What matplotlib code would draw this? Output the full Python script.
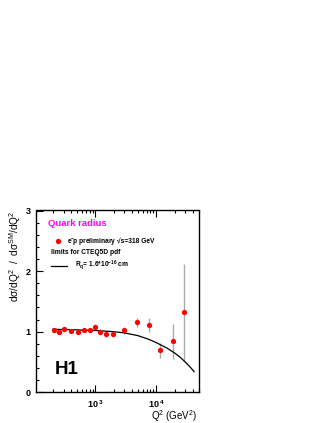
import numpy as np
import matplotlib
matplotlib.use("Agg")
import matplotlib.pyplot as plt
from matplotlib.ticker import LogLocator, FixedLocator, MultipleLocator, NullFormatter, FuncFormatter

plt.rcParams['font.family'] = ['Liberation Sans', 'DejaVu Sans']
plt.rcParams['mathtext.fontset'] = 'custom'
plt.rcParams['mathtext.rm'] = 'Liberation Sans'
plt.rcParams['mathtext.it'] = 'Liberation Sans:italic'
plt.rcParams['mathtext.bf'] = 'Liberation Sans:bold'

# data points
q2 = [205, 255, 304, 403, 508, 656, 805, 1000, 1197, 1506, 1968, 2929,
      4824, 7743, 11510, 18960, 28550]
ratio = [1.031, 0.998, 1.037, 1.009, 0.987, 1.026, 1.026, 1.076, 0.998,
         0.954, 0.954, 1.020, 1.153, 1.103, 0.695, 0.844, 1.324]
err = [0.03, 0.03, 0.03, 0.03, 0.03, 0.03, 0.035, 0.045, 0.04, 0.04, 0.045,
       0.055, 0.075, 0.115, 0.125, 0.29, 0.80]

# quark radius limit curve
curve_q2 = [200, 500, 1000, 2000, 3000, 5000, 7500, 10000, 15000, 20000,
            25000, 30000, 36000, 42000]
curve_r = [1.04, 1.03, 1.02, 1.0, 0.98, 0.935, 0.875, 0.82, 0.73, 0.65,
           0.575, 0.50, 0.42, 0.34]

W, H = 327, 423
fig = plt.figure(figsize=(W / 100, H / 100), dpi=100)
ax = fig.add_axes([36 / W, (H - 392.3) / H, 162.7 / W, 181.8 / H])

ax.errorbar(q2, ratio, yerr=err, fmt='none', ecolor='#aaaaaa', elinewidth=1.0,
            capsize=0, zorder=2)
ax.plot(q2, ratio, 'o', color='#ff0000', markersize=3.8, markeredgewidth=0,
        zorder=3)
ax.plot(curve_q2, curve_r, '-', color='black', linewidth=0.9, zorder=2)

ax.set_xscale('log')
ax.set_xlim(105, 5.0e4)
ax.set_ylim(0, 3)

ax.xaxis.set_major_locator(FixedLocator([1e3, 1e4]))
ax.xaxis.set_minor_locator(LogLocator(base=10, subs=np.arange(2, 10), numticks=20))
ax.xaxis.set_minor_formatter(NullFormatter())
ax.xaxis.set_major_formatter(FuncFormatter(lambda v, p: r'$\mathbf{10^{\ %d}}$' % round(np.log10(v))))
ax.yaxis.set_major_locator(MultipleLocator(1))
ax.yaxis.set_minor_locator(MultipleLocator(0.2))

ax.tick_params(axis='both', which='both', direction='in', right=False, top=True,
               width=0.8, colors='black')
ax.tick_params(axis='x', which='major', length=5, labelsize=6.5, pad=4)
ax.tick_params(axis='x', which='minor', length=2.5)
ax.tick_params(axis='y', which='major', length=5, labelsize=6.5, pad=4)
ax.tick_params(axis='y', which='minor', length=2.5)
for lab in ax.get_yticklabels():
    lab.set_fontweight('bold')
for s in ax.spines.values():
    s.set_linewidth(1.0)

# texts
ax.text(0.074, 0.931, 'Quark radius', transform=ax.transAxes, color='#ff00ff',
        fontsize=6.8, fontweight='bold', ha='left', va='center')
ax.plot([0.135], [0.832], 'o', color='#ff0000', markersize=3.8,
        markeredgewidth=0, transform=ax.transAxes, clip_on=False)
ax.text(0.189, 0.832, r'e$^{\mathbf{-}}\!$p preliminary', transform=ax.transAxes,
        fontsize=4.8, fontweight='bold', ha='left', va='center')
ax.text(0.50, 0.832, '\u221as=318 GeV', transform=ax.transAxes,
        fontsize=4.8, fontweight='bold', ha='left', va='center')
ax.text(0.092, 0.768, 'limits for CTEQ5D pdf', transform=ax.transAxes,
        fontsize=4.8, fontweight='bold', ha='left', va='center')
ax.plot([0.092, 0.188], [0.695, 0.695], '-', color='black', linewidth=0.9,
        transform=ax.transAxes, clip_on=False)
ax.text(0.24, 0.695, r'R$_{\mathbf{q}}$= 1.6*10$^{\mathbf{-16}}$ cm',
        transform=ax.transAxes, fontsize=4.8, fontweight='bold', ha='left', va='center')
ax.text(0.117, 0.123, 'H1', transform=ax.transAxes, fontsize=13.5,
        fontweight='bold', ha='left', va='center')

fig.text(15 / W, (H - 210) / H,
         r'$\mathdefault{d\sigma/dQ^2\ \ /\ \ d\sigma^{SM}/dQ^2}$',
         rotation=90, ha='center', va='top', fontsize=7.3)
fig.text(197 / W, (H - 416) / H, r'$\mathdefault{Q^2\ (GeV^2)}$',
         ha='right', va='center', fontsize=7)

fig.savefig('out.png', dpi=100)
